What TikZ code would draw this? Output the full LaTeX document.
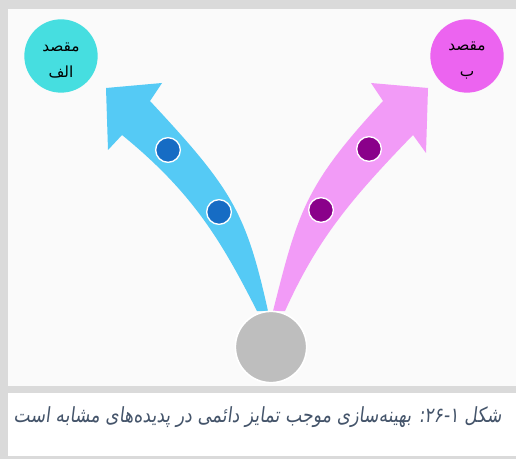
\documentclass[tikz,border=0pt]{standalone}
\usepackage{fontspec}
\usepackage{graphicx}
\newfontfamily\farsifont[Script=Arabic]{DejaVu Sans}
\newfontfamily\captionfont[Script=Arabic,FakeSlant=0.15]{DejaVu Sans}
\TeXXeTstate=1
\definecolor{framegray}{RGB}{218,218,218}
\definecolor{panelgray}{RGB}{250,250,250}
\definecolor{goalcyan}{RGB}{70,222,224}
\definecolor{goalpink}{RGB}{236,100,240}
\definecolor{arrowblue}{RGB}{85,202,245}
\definecolor{arrowpink}{RGB}{242,155,247}
\definecolor{dotblue}{RGB}{22,108,196}
\definecolor{dotpurple}{RGB}{138,0,138}
\definecolor{sourcegray}{RGB}{190,190,190}
\definecolor{captiontext}{RGB}{68,84,106}
\begin{document}
\begin{tikzpicture}[x=0.75pt,y=-0.75pt,
    goal/.style={circle,fill=#1,minimum size=55pt,inner sep=0pt,align=center,
      font=\farsifont\fontsize{11.5}{19.5}\selectfont},
    stepdot/.style={circle,fill=#1,draw=white,line width=1pt,minimum size=18.5pt,inner sep=0pt}]
        % frame and panels
        \fill[framegray] (0,0) rectangle (516,459);
        \fill[panelgray] (8,9) rectangle (516,386);
        \fill[white] (8,393) rectangle (516,456);
        \useasboundingbox (0,0) rectangle (516,459);
        % goals and source
        \node[goal=goalcyan] (goalA) at (61,56) {\rule{0pt}{13.5pt}\beginR مقصد\endR\\\beginR الف\endR};
        \node[goal=goalpink] (goalB) at (467,56) {\rule{0pt}{13.5pt}\beginR مقصد\endR\\\beginR ب\endR};
        \node[circle,fill=sourcegray,minimum size=53.5pt,inner sep=0pt] (source) at (271,347) {};
        % curved arrows
        \fill[arrowblue] ([xshift=-10.5pt]source.north) .. controls (221,240) and (192,192) .. (122,135)
            -- (108,150) -- (106,88) -- (162,83) -- (150,101)
            .. controls (232,189) and (246,212) .. ([xshift=-2.25pt]source.north) -- cycle;
        \fill[arrowpink] ([xshift=1.5pt]source.north) .. controls (298,212) and (305,185) .. (383,101)
            -- (371,83) -- (428,88) -- (426,153) -- (413,135)
            .. controls (350,200) and (317,240) .. ([xshift=10.5pt]source.north) -- cycle;
        \draw[white,line width=1.2pt] (source) circle [radius=26.75pt];
        % steps on the arrows
        \node[stepdot=dotblue] (stepA1) at (219,212) {};
        \node[stepdot=dotblue] (stepA2) at (168,150) {};
        \node[stepdot=dotpurple] (stepB1) at (321,210) {};
        \node[stepdot=dotpurple] (stepB2) at (369,149) {};
        % caption
        \node[anchor=east,text=captiontext,inner sep=0pt] (caption) at (502,417)
            {\resizebox{366pt}{!}{\scalebox{1}[1.2]{\captionfont\beginR شکل \beginL۱\endL-\beginL۲۶\endL: بهینه^^^^200cسازی موجب تمایز دائمی در پدیده^^^^200cهای مشابه است\endR}}};
    \end{tikzpicture}
\end{document}
